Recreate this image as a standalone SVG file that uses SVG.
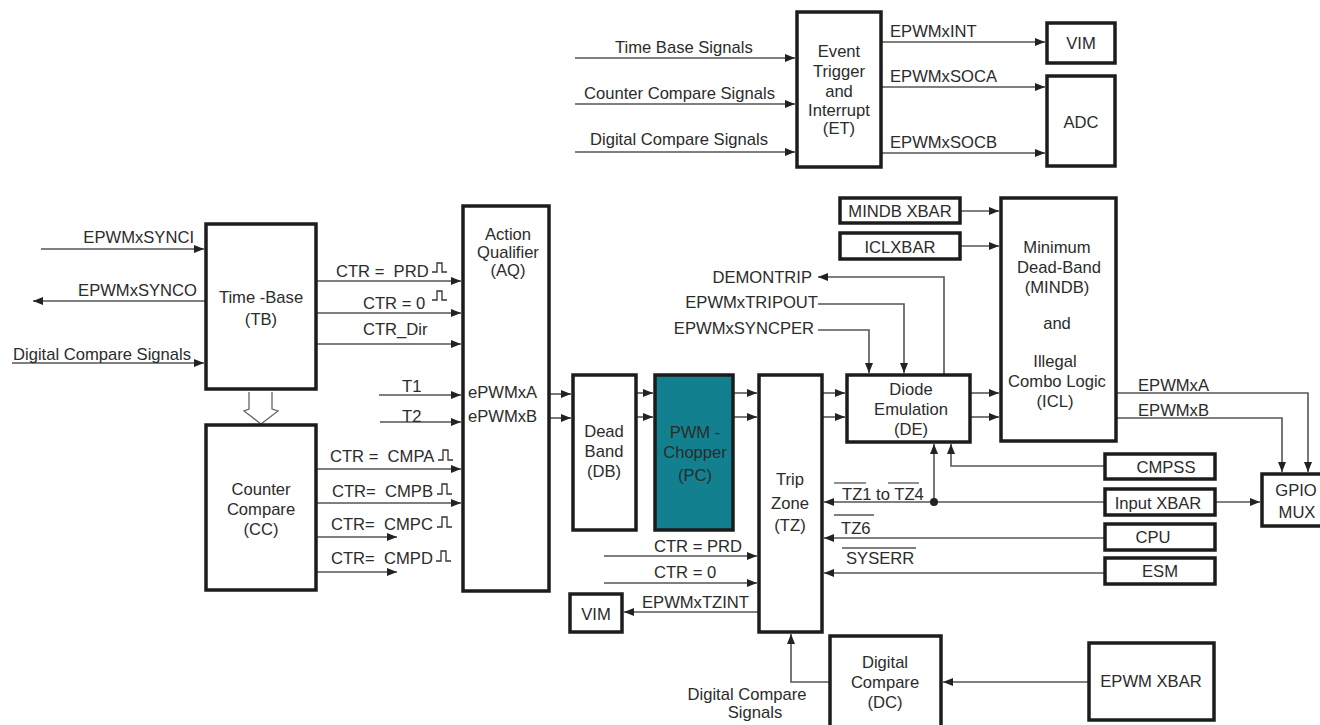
<svg xmlns="http://www.w3.org/2000/svg" width="1320" height="725" viewBox="0 0 1320 725">
<defs>
<marker id="ah" viewBox="0 0 10 8" refX="10" refY="4" markerWidth="10" markerHeight="8" markerUnits="userSpaceOnUse" orient="auto"><path d="M0,0 L10,4 L0,8 z" fill="#222"/></marker>
</defs>
<style>
.box{fill:#fff;stroke:#1c1c1c;stroke-width:3.5}
.pc{fill:#12808e}
text{font-family:"Liberation Sans",Arial,Helvetica,sans-serif;font-size:16.6px;fill:#2b2b2b}
.c{text-anchor:middle}
.e{text-anchor:end}
.w{stroke:#555;stroke-width:1.6;fill:none}
.a{marker-end:url(#ah)}
.ov{stroke:#555;stroke-width:1.3}
.pl{stroke:#333;stroke-width:1.3;fill:none}
</style>
<rect width="1320" height="725" fill="#fff"/>

<g id="connectors">
<path class="w a" d="M575 58 H795"/>
<path class="w a" d="M575 104 H795"/>
<path class="w a" d="M575 152 H795"/>
<path class="w a" d="M881 42 H1045"/>
<path class="w a" d="M881 87 H1045"/>
<path class="w a" d="M881 153 H1045"/>
<path class="w a" d="M41 249 H204"/>
<path class="w a" d="M206 301 H33"/>
<path class="w a" d="M12 363 H204"/>
<path class="w a" d="M316 281 H461"/>
<path class="w a" d="M316 313 H461"/>
<path class="w a" d="M316 344 H461"/>
<path class="w a" d="M379 395 H461"/>
<path class="w a" d="M380 422 H461"/>
<path class="w a" d="M316 469 H461"/>
<path class="w a" d="M316 503 H461"/>
<path class="w a" d="M316 537 H397"/>
<path class="w a" d="M316 572 H397"/>
<path d="M249 392 V409 L244 411 L261 424 L278 411 L272 409 V392" fill="#fff" stroke="#666" stroke-width="1.3"/>
<path class="w a" d="M549 394 H571"/>
<path class="w a" d="M549 418 H571"/>
<path class="w a" d="M636 393 H653"/>
<path class="w a" d="M636 417 H653"/>
<path class="w a" d="M733 393 H757"/>
<path class="w a" d="M733 417 H757"/>
<path class="w a" d="M822 393 H845"/>
<path class="w a" d="M822 417 H845"/>
<path class="w a" d="M970 393 H999"/>
<path class="w a" d="M970 417 H999"/>
<path class="w a" d="M960 211 H999"/>
<path class="w a" d="M960 246 H999"/>
<path class="w a" d="M944 375 V277 H818"/>
<path class="w a" d="M818 304 H904 V373"/>
<path class="w a" d="M818 330 H869 V373"/>
<path class="w a" d="M1116 393 H1308 V472"/>
<path class="w a" d="M1116 418 H1282 V472"/>
<path class="w a" d="M1105 466 H951 V444"/>
<path class="w a" d="M1105 502 H824"/>
<path class="w a" d="M934 502 V444"/>
<circle cx="934" cy="502" r="4" fill="#222"/>
<path class="w a" d="M1215 502 H1260"/>
<path class="w a" d="M1105 538 H824"/>
<path class="w a" d="M1105 573 H824"/>
<path class="w a" d="M604 556 H757"/>
<path class="w a" d="M604 583 H757"/>
<path class="w a" d="M759 612 H624"/>
<path class="w a" d="M1089 682 H943"/>
<path class="w a" d="M830 682 H791 V634"/>
</g>

<g id="labels">
<text x="615" y="53">Time Base Signals</text>
<text x="584" y="99">Counter Compare Signals</text>
<text x="590" y="145">Digital Compare Signals</text>
<text x="890" y="37">EPWMxINT</text>
<text x="890" y="82">EPWMxSOCA</text>
<text x="890" y="148">EPWMxSOCB</text>
<text x="194" y="243" class="e">EPWMxSYNCI</text>
<text x="197" y="296" class="e">EPWMxSYNCO</text>
<text x="13" y="360">Digital Compare Signals</text>
<text x="336" y="277" xml:space="preserve">CTR =  PRD</text>
<path class="pl" d="M432 272 H437 V263 H442 V272 H447"/>
<text x="363" y="309">CTR = 0</text>
<path class="pl" d="M432 300 H437 V291 H442 V300 H447"/>
<text x="363" y="335">CTR_Dir</text>
<text x="402" y="392">T1</text>
<text x="402" y="422">T2</text>
<text x="330" y="462" xml:space="preserve">CTR =  CMPA</text>
<path class="pl" d="M438 460 H443 V450 H448 V460 H453"/>
<text x="332" y="497" xml:space="preserve">CTR=  CMPB</text>
<path class="pl" d="M437 494 H442 V484 H447 V494 H452"/>
<text x="331" y="530" xml:space="preserve">CTR=  CMPC</text>
<path class="pl" d="M437 527 H442 V517 H447 V527 H452"/>
<text x="331" y="564" xml:space="preserve">CTR=  CMPD</text>
<path class="pl" d="M436 561 H441 V551 H446 V561 H451"/>
<text x="812" y="283" class="e">DEMONTRIP</text>
<text x="818" y="308" class="e">EPWMxTRIPOUT</text>
<text x="814" y="334" class="e">EPWMxSYNCPER</text>
<text x="1138" y="391">EPWMxA</text>
<text x="1138" y="416">EPWMxB</text>
<text x="842" y="500" xml:space="preserve">TZ1 to TZ4</text>
<line class="ov" x1="834" y1="483" x2="866" y2="483"/>
<line class="ov" x1="888" y1="483" x2="919" y2="483"/>
<text x="841" y="534">TZ6</text>
<line class="ov" x1="834" y1="515" x2="874" y2="515"/>
<text x="846" y="564">SYSERR</text>
<line class="ov" x1="842" y1="548" x2="916" y2="548"/>
<text x="654" y="552">CTR = PRD</text>
<text x="654" y="578">CTR = 0</text>
<text x="642" y="608">EPWMxTZINT</text>
<text x="747" y="700" class="c">Digital Compare</text>
<text x="755" y="718" class="c">Signals</text>
</g>

<g id="et"><rect class="box" x="797" y="12" width="84" height="155"/>
<text class="c" x="839" y="57">Event</text><text class="c" x="839" y="77">Trigger</text><text class="c" x="839" y="97">and</text><text class="c" x="839" y="116">Interrupt</text><text class="c" x="839" y="134">(ET)</text></g>
<g id="vim-top"><rect class="box" x="1047" y="23" width="68" height="40"/><text class="c" x="1081" y="49">VIM</text></g>
<g id="adc"><rect class="box" x="1047" y="76" width="68" height="90"/><text class="c" x="1081" y="128">ADC</text></g>
<g id="tb"><rect class="box" x="206" y="224" width="110" height="165"/>
<text class="c" x="261" y="303">Time -Base</text><text class="c" x="261" y="325">(TB)</text></g>
<g id="cc"><rect class="box" x="206" y="425" width="110" height="165"/>
<text class="c" x="261" y="495">Counter</text><text class="c" x="261" y="515">Compare</text><text class="c" x="261" y="535">(CC)</text></g>
<g id="aq"><rect class="box" x="463" y="206" width="86" height="385"/>
<text class="c" x="508" y="240">Action</text><text class="c" x="508" y="258">Qualifier</text><text class="c" x="508" y="276">(AQ)</text>
<text x="468" y="398">ePWMxA</text><text x="468" y="422">ePWMxB</text></g>
<g id="db"><rect class="box" x="573" y="375" width="63" height="155"/>
<text class="c" x="604" y="437">Dead</text><text class="c" x="604" y="457">Band</text><text class="c" x="604" y="477">(DB)</text></g>
<g id="pc"><rect class="box pc" x="655" y="375" width="78" height="155"/>
<text class="c" x="695" y="438">PWM -</text><text class="c" x="695" y="458">Chopper</text><text class="c" x="695" y="481">(PC)</text></g>
<g id="tz"><rect class="box" x="759" y="375" width="63" height="257"/>
<text class="c" x="790" y="485">Trip</text><text class="c" x="790" y="509">Zone</text><text class="c" x="790" y="531">(TZ)</text></g>
<g id="de"><rect class="box" x="847" y="375" width="123" height="67"/>
<text class="c" x="911" y="395">Diode</text><text class="c" x="911" y="415">Emulation</text><text class="c" x="911" y="435">(DE)</text></g>
<g id="icl"><rect class="box" x="1001" y="198" width="115" height="243"/>
<text class="c" x="1057" y="253">Minimum</text><text class="c" x="1059" y="273">Dead-Band</text><text class="c" x="1057" y="293">(MINDB)</text><text class="c" x="1057" y="329">and</text><text class="c" x="1055" y="367">Illegal</text><text class="c" x="1057" y="387">Combo Logic</text><text class="c" x="1055" y="407">(ICL)</text></g>
<g id="mindb-xbar"><rect class="box" x="840" y="198" width="120" height="25"/><text class="c" x="900" y="217">MINDB XBAR</text></g>
<g id="iclxbar"><rect class="box" x="840" y="233" width="120" height="26"/><text class="c" x="900" y="253">ICLXBAR</text></g>
<g id="cmpss"><rect class="box" x="1105" y="454" width="110" height="25"/><text class="c" x="1166" y="473">CMPSS</text></g>
<g id="input-xbar"><rect class="box" x="1105" y="489" width="110" height="26"/><text class="c" x="1158" y="509">Input XBAR</text></g>
<g id="cpu"><rect class="box" x="1105" y="524" width="110" height="26"/><text class="c" x="1153" y="543">CPU</text></g>
<g id="esm"><rect class="box" x="1105" y="558" width="110" height="26"/><text class="c" x="1160" y="577">ESM</text></g>
<g id="gpio-mux"><rect class="box" x="1262" y="474" width="62" height="52"/>
<text class="c" x="1296" y="496">GPIO</text><text class="c" x="1297" y="518">MUX</text></g>
<g id="vim-bottom"><rect class="box" x="570" y="594" width="52" height="38"/><text class="c" x="596" y="620">VIM</text></g>
<g id="dc"><rect class="box" x="830" y="636" width="111" height="95"/>
<text class="c" x="885" y="668">Digital</text><text class="c" x="885" y="688">Compare</text><text class="c" x="885" y="708">(DC)</text></g>
<g id="epwm-xbar"><rect class="box" x="1089" y="643" width="125" height="77"/><text class="c" x="1151" y="687">EPWM XBAR</text></g>
</svg>
